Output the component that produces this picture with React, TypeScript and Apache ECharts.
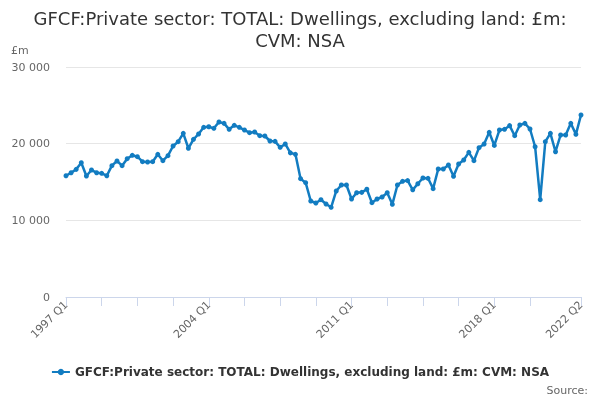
import { useEffect, useRef } from "react";
import * as echarts from "echarts";

const seriesName = "GFCF:Private sector: TOTAL: Dwellings, excluding land: £m: CVM: NSA";

const startYear = 1997;
const quarterCount = 102;

const quarters: string[] = [];
for (let i = 0; i < quarterCount; i++) {
  quarters.push(`${startYear + Math.floor(i / 4)} Q${(i % 4) + 1}`);
}

// 1997 Q1 .. 2022 Q2, £m
const values = [
  15820, 16210, 16650, 17520, 15780, 16560, 16210, 16130, 15820, 17130,
  17740, 17130, 18040, 18480, 18300, 17650, 17610, 17650, 18610, 17780,
  18430, 19700, 20260, 21350, 19400, 20570, 21260, 22130, 22210, 22000,
  22830, 22650, 21870, 22390, 22130, 21780, 21430, 21520, 21040, 21000,
  20350, 20300, 19520, 19960, 18800, 18610, 15430, 14910, 12520, 12260,
  12690, 12130, 11700, 13830, 14610, 14610, 12780, 13600, 13650, 14050,
  12300, 12780, 13040, 13600, 12090, 14610, 15090, 15190, 13980, 14770,
  15520, 15480, 14130, 16700, 16700, 17220, 15740, 17350, 17870, 18870,
  17780, 19480, 19960, 21480, 19770, 21780, 21870, 22350, 21040, 22430,
  22650, 21910, 19600, 12690, 20260, 21350, 18950, 21130, 21130, 22650,
  21220, 23740,
];

const yTicks = [0, 10000, 20000, 30000];

const fmt = (v: number) => String(v).replace(/\B(?=(\d{3})+(?!\d))/g, " ");

export default function App() {
  const chartRef = useRef<HTMLDivElement>(null);

  useEffect(() => {
    if (!chartRef.current) return;
    const chart = echarts.init(chartRef.current, undefined, { renderer: "svg" });
    const font = "DejaVu Sans";

    chart.setOption({
      animation: false,
      textStyle: { fontFamily: font },
      title: {
        text: "GFCF:Private sector: TOTAL: Dwellings, excluding land: £m:\nCVM: NSA",
        left: "center",
        top: 2,
        textStyle: {
          fontFamily: font,
          fontSize: 18,
          fontWeight: "normal",
          color: "#333333",
          lineHeight: 22,
        },
      },
      legend: {
        top: 361,
        left: "center",
        itemWidth: 18,
        itemHeight: 8,
        itemGap: 4,
        textStyle: { fontFamily: font, fontSize: 12, fontWeight: "bold", color: "#333333" },
        data: [seriesName],
      },
      grid: { left: 66, right: 19, top: 67, bottom: 103, containLabel: false },
      xAxis: {
        type: "category",
        data: quarters,
        boundaryGap: false,
        axisLine: { lineStyle: { color: "#ccd6eb" } },
        axisTick: {
          length: 9,
          lineStyle: { color: "#ccd6eb" },
          interval: (i: number) => (i % 7 === 0 && i <= 91) || i === quarterCount - 1,
        },
        axisLabel: {
          rotate: 45,
          fontSize: 11,
          color: "#666666",
          fontFamily: font,
          margin: 6,
          interval: (i: number) => i % 28 === 0 || i === quarterCount - 1,
        },
        splitLine: { show: false },
      },
      yAxis: {
        type: "value",
        min: yTicks[0],
        max: yTicks[yTicks.length - 1],
        interval: 10000,
        axisLine: { show: false },
        axisTick: { show: false },
        axisLabel: {
          fontSize: 11,
          color: "#666666",
          fontFamily: font,
          margin: 16,
          formatter: (v: number) => fmt(v),
        },
        splitLine: { lineStyle: { color: "#e6e6e6" } },
      },
      graphic: [
        {
          type: "text",
          left: 11,
          top: 45,
          style: { text: "£m", fontSize: 11, fill: "#666666", fontFamily: font },
        },
        {
          type: "text",
          right: 12,
          top: 385,
          style: { text: "Source:", fontSize: 11, fill: "#666666", fontFamily: font },
        },
      ],
      series: [
        {
          name: seriesName,
          type: "line",
          data: values,
          symbol: "circle",
          symbolSize: 5,
          showSymbol: true,
          showAllSymbol: true,
          itemStyle: { color: "#127cc1" },
          lineStyle: { color: "#127cc1", width: 2.5 },
        },
      ],
    });

    return () => chart.dispose();
  }, []);

  return (
    <div
      ref={chartRef}
      style={{ position: "fixed", left: 0, top: 0, width: 600, height: 400 }}
    />
  );
}
